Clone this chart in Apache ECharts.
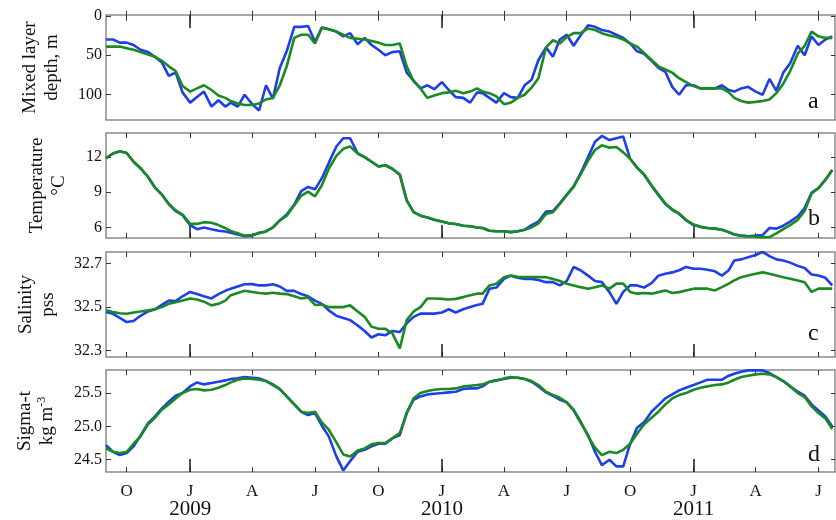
<!DOCTYPE html>
<html lang="en">
<head>
<meta charset="UTF-8">
<title>Mixed layer, temperature, salinity, sigma-t</title>
<script src="https://cdn.jsdelivr.net/npm/echarts@6/dist/echarts.min.js"></script>
<style>
    html, body { margin: 0; padding: 0; background: #fff; }
    #main { width: 836px; height: 520px; }
</style>
</head>
<body>
<div id="main"></div>
<script>
// sample dates (1st, 11th, 21st of each month)
var dates = [
    '2008-09-01','2008-09-11','2008-09-21','2008-10-01','2008-10-11','2008-10-21',
    '2008-11-01','2008-11-11','2008-11-21','2008-12-01','2008-12-11','2008-12-21',
    '2009-01-01','2009-01-11','2009-01-21','2009-02-01','2009-02-11','2009-02-21',
    '2009-03-01','2009-03-11','2009-03-21','2009-04-01','2009-04-11','2009-04-21',
    '2009-05-01','2009-05-11','2009-05-21','2009-06-01','2009-06-11','2009-06-21',
    '2009-07-01','2009-07-11','2009-07-21','2009-08-01','2009-08-11','2009-08-21',
    '2009-09-01','2009-09-11','2009-09-21','2009-10-01','2009-10-11','2009-10-21',
    '2009-11-01','2009-11-11','2009-11-21','2009-12-01','2009-12-11','2009-12-21',
    '2010-01-01','2010-01-11','2010-01-21','2010-02-01','2010-02-11','2010-02-21',
    '2010-03-01','2010-03-11','2010-03-21','2010-04-01','2010-04-11','2010-04-21',
    '2010-05-01','2010-05-11','2010-05-21','2010-06-01','2010-06-11','2010-06-21',
    '2010-07-01','2010-07-11','2010-07-21','2010-08-01','2010-08-11','2010-08-21',
    '2010-09-01','2010-09-11','2010-09-21','2010-10-01','2010-10-11','2010-10-21',
    '2010-11-01','2010-11-11','2010-11-21','2010-12-01','2010-12-11','2010-12-21',
    '2011-01-01','2011-01-11','2011-01-21','2011-02-01','2011-02-11','2011-02-21',
    '2011-03-01','2011-03-11','2011-03-21','2011-04-01','2011-04-11','2011-04-21',
    '2011-05-01','2011-05-11','2011-05-21','2011-06-01','2011-06-11','2011-06-21',
    '2011-07-01','2011-07-11','2011-07-21'
];

// a: mixed layer depth, m
var mldBlue = [
    30, 30, 34, 34, 37, 43, 46, 52, 59, 76, 72, 97,
    110, 103, 96, 115, 107, 115, 110, 115, 100, 112, 120, 88,
    105, 66, 45, 14, 14, 13, 33, 15, 17, 20, 26, 22,
    36, 28, 37, 43, 50, 46, 45, 72, 82, 92, 88, 93,
    84, 94, 103, 104, 110, 97, 98, 104, 110, 98, 103, 104,
    88, 81, 56, 40, 52, 30, 24, 38, 25, 12, 14, 18,
    20, 24, 28, 35, 45, 48, 57, 66, 71, 90, 100, 88,
    88, 92, 92, 92, 88, 94, 96, 92, 90, 96, 100, 80,
    95, 72, 60, 38, 50, 26, 37, 30, 26
];
var mldGreen = [
    39, 39, 39, 41, 43, 46, 49, 52, 57, 64, 70, 89,
    96, 92, 88, 94, 101, 104, 108, 111, 113, 113, 111, 106,
    104, 88, 64, 28, 24, 24, 35, 15, 17, 20, 24, 28,
    29, 30, 32, 34, 37, 37, 35, 64, 83, 92, 104, 101,
    98, 97, 95, 98, 96, 92, 96, 98, 102, 112, 110, 104,
    100, 91, 79, 40, 31, 35, 27, 22, 22, 16, 18, 22,
    25, 27, 30, 35, 39, 47, 56, 64, 68, 72, 79, 84,
    89, 92, 92, 92, 92, 97, 104, 108, 110, 109, 108, 106,
    98, 86, 70, 48, 38, 20, 26, 28, 28
];

// b: temperature, degC
var tempBlue = [
    11.9, 12.3, 12.5, 12.35, 11.6, 11.05, 10.3, 9.4, 8.8, 8.0, 7.4, 7.05,
    6.2, 5.85, 6.0, 5.85, 5.72, 5.65, 5.55, 5.4, 5.25, 5.3, 5.55, 5.66,
    6.0, 6.6, 7.1, 7.95, 9.1, 9.45, 9.25, 10.2, 11.5, 12.9, 13.6, 13.6,
    12.3, 12.0, 11.6, 11.2, 11.3, 11.0, 10.5, 8.3, 7.3, 7.0, 6.85, 6.65,
    6.5, 6.35, 6.3, 6.15, 6.1, 6.0, 5.95, 5.72, 5.67, 5.67, 5.6, 5.67,
    5.8, 6.2, 6.5, 7.35, 7.4, 8.05, 8.8, 9.5, 10.6, 12.0, 13.3, 13.8,
    13.45, 13.6, 13.75, 11.85, 11.1, 10.5, 9.55, 8.75, 8.0, 7.5, 7.15, 6.6,
    6.2, 6.05, 5.95, 5.9, 5.8, 5.6, 5.4, 5.3, 5.25, 5.3, 5.35, 5.95,
    5.9, 6.15, 6.5, 6.95, 7.65, 8.95, 9.35, 10.05, 10.9
];
var tempGreen = [
    11.9, 12.3, 12.5, 12.35, 11.6, 11.05, 10.3, 9.4, 8.8, 8.0, 7.45, 7.1,
    6.3, 6.3, 6.45, 6.4, 6.2, 5.95, 5.7, 5.5, 5.3, 5.35, 5.5, 5.66,
    6.0, 6.6, 7.0, 7.9, 8.7, 9.05, 8.65, 9.6, 11.0, 12.1, 12.7, 12.9,
    12.3, 12.0, 11.6, 11.2, 11.3, 11.0, 10.5, 8.3, 7.3, 7.0, 6.85, 6.65,
    6.5, 6.35, 6.3, 6.15, 6.1, 6.0, 5.95, 5.72, 5.67, 5.67, 5.6, 5.67,
    5.8, 6.0, 6.35, 7.15, 7.3, 8.0, 8.75, 9.45, 10.5, 11.7, 12.6, 13.0,
    12.8, 12.85, 12.4, 11.85, 11.1, 10.55, 9.6, 8.8, 8.05, 7.55, 7.2, 6.65,
    6.25, 6.05, 5.95, 5.9, 5.8, 5.6, 5.4, 5.3, 5.25, 5.2, 5.15, 5.18,
    5.5, 5.85, 6.2, 6.65, 7.4, 8.9, 9.35, 10.05, 10.9
];

// c: salinity, pss
var salBlue = [
    32.477, 32.469, 32.45, 32.431, 32.436, 32.46, 32.48, 32.49, 32.51, 32.53, 32.528, 32.55,
    32.57, 32.56, 32.55, 32.54, 32.56, 32.575, 32.585, 32.595, 32.605, 32.606, 32.6, 32.6,
    32.605, 32.595, 32.575, 32.575, 32.56, 32.55, 32.53, 32.515, 32.485, 32.46, 32.45, 32.44,
    32.415, 32.39, 32.36, 32.375, 32.37, 32.39, 32.385, 32.425, 32.455, 32.47, 32.47, 32.47,
    32.475, 32.49, 32.475, 32.49, 32.5, 32.51, 32.515, 32.585, 32.59, 32.63, 32.645, 32.635,
    32.63, 32.63, 32.625, 32.615, 32.615, 32.6, 32.62, 32.685, 32.67, 32.645, 32.62, 32.615,
    32.569, 32.515, 32.57, 32.6, 32.6, 32.59, 32.61, 32.645, 32.654, 32.66, 32.67, 32.685,
    32.677, 32.677, 32.672, 32.665, 32.645, 32.67, 32.715, 32.72, 32.73, 32.74, 32.755, 32.735,
    32.72, 32.715, 32.705, 32.69, 32.68, 32.65, 32.646, 32.635, 32.6
];
var salGreen = [
    32.485, 32.477, 32.472, 32.469, 32.475, 32.48, 32.485, 32.49, 32.5, 32.515, 32.522, 32.53,
    32.54, 32.535, 32.525, 32.508, 32.515, 32.53, 32.555, 32.565, 32.575, 32.57, 32.565, 32.562,
    32.566, 32.562, 32.56, 32.55, 32.54, 32.545, 32.51, 32.512, 32.5, 32.5, 32.5, 32.508,
    32.48, 32.455, 32.41, 32.4, 32.4, 32.38, 32.31, 32.44, 32.48, 32.5, 32.54, 32.54,
    32.538, 32.535, 32.538, 32.546, 32.555, 32.562, 32.562, 32.6, 32.608, 32.638, 32.646, 32.64,
    32.638, 32.638, 32.638, 32.638, 32.63, 32.62, 32.608, 32.6, 32.592, 32.585, 32.592, 32.6,
    32.585, 32.608, 32.608, 32.57, 32.562, 32.565, 32.562, 32.569, 32.577, 32.565, 32.569, 32.577,
    32.585, 32.585, 32.585, 32.577, 32.592, 32.608, 32.623, 32.638, 32.646, 32.654, 32.66, 32.654,
    32.646, 32.638, 32.631, 32.623, 32.615, 32.57, 32.585, 32.585, 32.585
];

// d: sigma-t, kg m-3
var sigBlue = [
    24.72, 24.62, 24.57, 24.6, 24.7, 24.86, 25.05, 25.15, 25.27, 25.37, 25.46, 25.5,
    25.6, 25.66, 25.63, 25.65, 25.67, 25.69, 25.71, 25.72, 25.74, 25.73, 25.72, 25.68,
    25.63, 25.56, 25.45, 25.33, 25.22, 25.17, 25.2, 25.01, 24.85, 24.55, 24.34, 24.48,
    24.62, 24.65, 24.7, 24.74, 24.74, 24.82, 24.87, 25.2, 25.4, 25.45, 25.48, 25.49,
    25.5, 25.51, 25.52, 25.56, 25.57, 25.57, 25.6, 25.67, 25.69, 25.71, 25.73, 25.73,
    25.71, 25.67, 25.6, 25.51, 25.46, 25.4, 25.36, 25.24, 25.06, 24.87, 24.62, 24.42,
    24.5, 24.4, 24.4, 24.74, 24.98, 25.06, 25.22, 25.32, 25.42, 25.48, 25.54, 25.58,
    25.62, 25.66, 25.7, 25.7, 25.7, 25.76, 25.79, 25.82, 25.84, 25.84, 25.84, 25.8,
    25.74, 25.68, 25.6, 25.52, 25.46, 25.33, 25.24, 25.15, 25.0
];
var sigGreen = [
    24.67, 24.62, 24.6, 24.62, 24.74, 24.85, 25.03, 25.13, 25.25, 25.33, 25.42, 25.5,
    25.55, 25.56, 25.54, 25.55, 25.58, 25.62, 25.66, 25.7, 25.72, 25.71, 25.7, 25.68,
    25.62, 25.56, 25.45, 25.33, 25.22, 25.2, 25.22, 25.06, 24.95, 24.76, 24.58, 24.55,
    24.64, 24.67, 24.73, 24.75, 24.75, 24.82, 24.9, 25.2, 25.42, 25.5, 25.53, 25.55,
    25.56, 25.56, 25.57, 25.6, 25.61, 25.62, 25.63, 25.67, 25.69, 25.72, 25.74, 25.73,
    25.71, 25.68, 25.62, 25.52, 25.47, 25.43, 25.36, 25.25, 25.08, 24.85, 24.68, 24.57,
    24.62, 24.6, 24.65, 24.74, 24.89, 25.03, 25.13, 25.22, 25.33, 25.42, 25.47, 25.5,
    25.55, 25.58, 25.6, 25.62, 25.63, 25.66, 25.7, 25.74, 25.76, 25.78, 25.79, 25.78,
    25.74, 25.68, 25.6, 25.5, 25.44, 25.3, 25.2, 25.12, 24.96
];

// x ticks
var quarterTicks = [
    '2008-10-01','2009-01-01','2009-04-01','2009-07-01','2009-10-01','2010-01-01',
    '2010-04-01','2010-07-01','2010-10-01','2011-01-01','2011-04-01','2011-07-01'
];
var quarterLabels = ['O','J','A','J','O','J','A','J','O','J','A','J'];
var yearTicks = ['2009-01-01','2010-01-01','2011-01-01'];
var yearLabels = ['2009','2010','2011'];

// y ticks
var mldTicks = [0, 50, 100];
var tempTicks = [6, 9, 12];
var salTicks = [32.3, 32.5, 32.7];
var sigTicks = [24.5, 25.0, 25.5];

var BLUE = '#1f3fe6', GREEN = '#1a8a22';
var FONT = "'Liberation Serif', 'Times New Roman', serif";

function ts(s) {
    var p = s.split('-');
    return Date.UTC(+p[0], +p[1] - 1, +p[2]);
}
function pairs(vals) {
    return vals.map(function (v, i) { return [ts(dates[i]), v]; });
}

var xMin = ts('2008-09-01'), xMax = ts('2011-07-25');
var qTs = quarterTicks.map(ts), yTs = yearTicks.map(ts);
var qLab = {}, yLab = {};
qTs.forEach(function (t, i) { qLab[t] = quarterLabels[i]; });
yTs.forEach(function (t, i) { yLab[t] = yearLabels[i]; });

var panels = [
    {name: 'Mixed layer\ndepth, m', blue: mldBlue, green: mldGreen, min: -1, max: 132, inverse: true,
        ticks: mldTicks, dec: 0, top: 15, height: 105, gap: 43, letter: 'a', letterY: 103},
    {name: 'Temperature\n°C', blue: tempBlue, green: tempGreen, min: 5.1, max: 14.05, inverse: false,
        ticks: tempTicks, dec: 0, top: 133, height: 105, gap: 36, letter: 'b', letterY: 220},
    {name: 'Salinity\npss', blue: salBlue, green: salGreen, min: 32.27, max: 32.754, inverse: false,
        ticks: salTicks, dec: 1, top: 252, height: 105, gap: 47, letter: 'c', letterY: 335},
    {name: 'Sigma-t\nkg m{sup|-3}', blue: sigBlue, green: sigGreen, min: 24.316, max: 25.846, inverse: false,
        ticks: sigTicks, dec: 1, top: 370, height: 104, gap: 48, letter: 'd', letterY: 456}
];

var grids = [], xAxes = [], yAxes = [], series = [], texts = [];
var tickStyle = {color: '#333', width: 1};

panels.forEach(function (p, i) {
    var last = i === panels.length - 1;
    grids.push({left: 106, right: 1, top: p.top, height: p.height, show: true,
        borderColor: '#8a8a8a', borderWidth: 1.5, backgroundColor: 'transparent'});

    var base = {gridIndex: i, type: 'value', min: xMin, max: xMax,
        axisLine: {show: false}, splitLine: {show: false}};
    // quarter ticks, bottom (series attach here)
    xAxes.push(Object.assign({}, base, {
        position: 'bottom',
        axisTick: {inside: true, length: 5, customValues: qTs, lineStyle: tickStyle},
        axisLabel: last ? {customValues: qTs, margin: 11, fontSize: 17, fontFamily: FONT, color: '#111',
            formatter: function (v) { return qLab[v] || ''; }} : {show: false}
    }));
    // quarter ticks, top
    xAxes.push(Object.assign({}, base, {
        position: 'top',
        axisTick: {inside: true, length: 5, customValues: qTs, lineStyle: tickStyle},
        axisLabel: {show: false}
    }));
    // long January ticks (and year labels under the last panel)
    xAxes.push(Object.assign({}, base, {
        position: i === 0 ? 'top' : 'bottom',
        axisTick: {inside: true, length: 13, customValues: yTs, lineStyle: {color: '#222', width: 1.6}},
        axisLabel: last ? {customValues: yTs, margin: 27, fontSize: 21, fontFamily: FONT, color: '#111',
            formatter: function (v) { return yLab[v] || ''; }} : {show: false}
    }));

    yAxes.push({
        gridIndex: i, type: 'value', position: 'left', min: p.min, max: p.max, inverse: p.inverse,
        axisLine: {show: false}, splitLine: {show: false},
        axisTick: {inside: true, length: 5, customValues: p.ticks, lineStyle: tickStyle},
        axisLabel: {customValues: p.ticks, margin: 4, fontSize: 16, fontFamily: FONT, color: '#111',
            formatter: (function (d) { return function (v) { return v.toFixed(d); }; })(p.dec)},
        name: p.name, nameLocation: 'middle', nameRotate: 90, nameGap: p.gap,
        nameTextStyle: {fontSize: 19, lineHeight: 22, fontFamily: FONT, color: '#111',
            rich: {sup: {fontSize: 12, lineHeight: 22, verticalAlign: 'top', fontFamily: FONT, color: '#111'}}}
    });
    yAxes.push({
        gridIndex: i, type: 'value', position: 'right', min: p.min, max: p.max, inverse: p.inverse,
        axisLine: {show: false}, splitLine: {show: false},
        axisTick: {inside: true, length: 4, customValues: p.ticks, lineStyle: tickStyle},
        axisLabel: {show: false}
    });

    [[p.blue, BLUE], [p.green, GREEN]].forEach(function (s) {
        series.push({
            type: 'line', xAxisIndex: i * 3, yAxisIndex: i * 2, data: pairs(s[0]),
            showSymbol: false, symbol: 'none', smooth: false,
            lineStyle: {color: s[1], width: 2.6}, itemStyle: {color: s[1]},
            emphasis: {disabled: true}
        });
    });

    texts.push({type: 'text', left: 808, top: p.letterY - 13,
        style: {text: p.letter, font: '24px ' + FONT, fill: '#111'}});
});

var chart = echarts.init(document.getElementById('main'), null, {renderer: 'canvas'});
chart.setOption({
    animation: false,
    backgroundColor: '#fff',
    grid: grids,
    xAxis: xAxes,
    yAxis: yAxes,
    series: series,
    graphic: texts
});
</script>
</body>
</html>
